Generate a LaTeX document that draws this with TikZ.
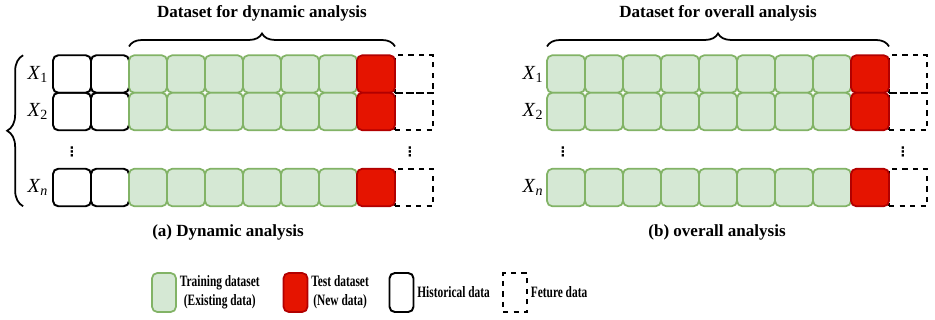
\documentclass[tikz,border=0pt]{standalone}
\usepackage{fontspec}
\setmainfont{Liberation Serif}
\newfontfamily\legendfont[FakeStretch=0.72]{Liberation Serif}
\newfontfamily\dotsfont{DejaVu Sans}
\usetikzlibrary{positioning,decorations.pathreplacing}

\definecolor{trainfill}{HTML}{D5E8D4}
\definecolor{trainline}{HTML}{82B366}
\definecolor{testfill}{HTML}{E51400}
\definecolor{testline}{HTML}{B20000}

\tikzset{
	cell/.style={minimum width=0.76cm,minimum height=0.75cm,inner sep=0pt,outer sep=0pt,rounded corners=3pt},
	traincell/.style={cell,draw=trainline,fill=trainfill,line width=1pt},
	testcell/.style={cell,draw=testline,fill=testfill,line width=1pt},
	histcell/.style={cell,draw=black,line width=1.1pt},
	futcell/.style={cell,draw=black,dashed,line width=1pt,rounded corners=0pt},
	legbox/.style={minimum width=0.48cm,minimum height=0.78cm},
	title/.style={font=\bfseries\fontsize{9.7}{11}\selectfont},
	rowlabel/.style={font=\fontsize{11.4}{12}\selectfont},
	vdotlabel/.style={font=\dotsfont\bfseries\fontsize{7.5}{8}\selectfont,inner sep=0pt},
	legtext/.style={font=\legendfont\bfseries\fontsize{9}{10.8}\selectfont,align=center,inner sep=1pt},
	databrace/.style={decorate,decoration={brace,amplitude=#1},line width=1pt},
}

\begin{document}
\begin{tikzpicture}[x=0.02cm,y=-0.02cm]
	\useasboundingbox (0,0) rectangle (935,319);
	% (a) dynamic analysis
	\foreach \r/\y/\s in {1/74/1,2/111.5/2,n/187.5/\textit{n}}{
		\node[futcell] (a\r-9) at (414,\y) {};
		\foreach \c in {0,1}
			\node[histcell] (a\r-\c) at (72+38*\c,\y) {};
		\foreach \c in {2,...,7}
			\node[traincell] (a\r-\c) at (72+38*\c,\y) {};
		\node[testcell] (a\r-8) at (376,\y) {};
		\node[rowlabel] (ax\r) at (38,\y) {\textit{X}\textsubscript{\s}};
	}
	\node[vdotlabel] (adots) at (72,152) {⋮};
	\node[vdotlabel] (adotsr) at (410,152) {⋮};
	\draw[databrace=0.26cm] ([yshift=5pt]a1-2.north west) -- ([yshift=5pt]a1-8.north east);
	\draw[databrace=0.32cm] ([xshift=-17pt]an-0.south west) -- ([xshift=-17pt]a1-0.north west);
	\node[title] (atitle) at (262,13) {Dataset for dynamic analysis};
	\node[title] (acap) at (228,232) {(a) Dynamic analysis};
	% (b) overall analysis
	\foreach \r/\y/\s in {1/74/1,2/111.5/2,n/187.5/\textit{n}}{
		\node[futcell] (b\r-9) at (908,\y) {};
		\foreach \c in {0,...,7}
			\node[traincell] (b\r-\c) at (566+38*\c,\y) {};
		\node[testcell] (b\r-8) at (870,\y) {};
		\node[rowlabel] (bx\r) at (533,\y) {\textit{X}\textsubscript{\s}};
	}
	\node[vdotlabel] (bdots) at (563,152) {⋮};
	\node[vdotlabel] (bdotsr) at (903,152) {⋮};
	\draw[databrace=0.26cm] ([yshift=5pt]b1-0.north west) -- ([yshift=5pt]b1-8.north east);
	\node[title] (btitle) at (718,13) {Dataset for overall analysis};
	\node[title] (bcap) at (717,232) {(b) overall analysis};
	% legend
	\node[traincell,legbox] (lgtrain) at (164,292.5) {};
	\node[legtext,right=1pt of lgtrain] (lgtraintxt) {Training dataset\\(Existing data)};
	\node[testcell,legbox] (lgtest) at (295.5,292.5) {};
	\node[legtext,right=1pt of lgtest] (lgtesttxt) {Test dataset\\(New data)};
	\node[histcell,legbox] (lghist) at (401.5,292.5) {};
	\node[legtext,right=1pt of lghist] (lghisttxt) {Historical data};
	\node[futcell,legbox] (lgfut) at (515,292.5) {};
	\node[legtext,right=1pt of lgfut] (lgfuttxt) {Feture data};
\end{tikzpicture}
\end{document}
